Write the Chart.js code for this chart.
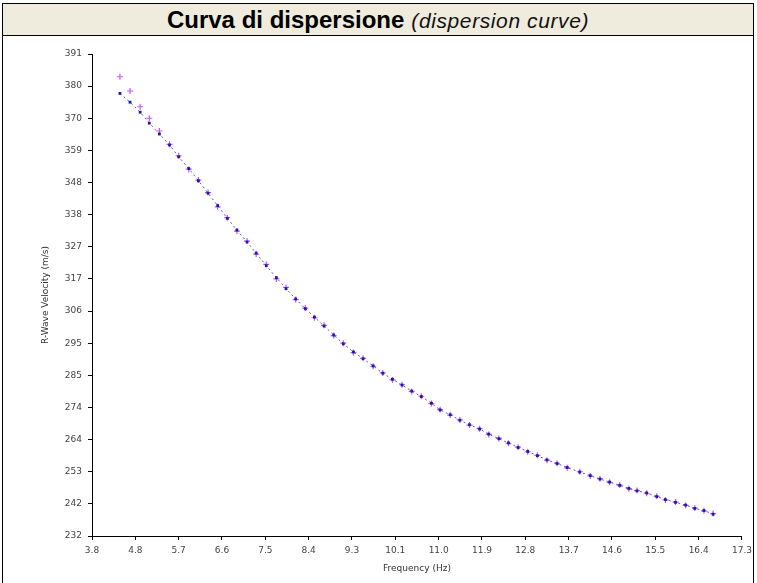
<!DOCTYPE html>
<html>
<head>
<meta charset="utf-8">
<script src="https://cdn.jsdelivr.net/npm/chart.js@4.4.1/dist/chart.umd.min.js"></script>
<style>
  html,body{margin:0;padding:0;background:#fff;}
  #frame{position:absolute;left:2px;top:3px;width:752px;height:590px;border:1px solid #000;box-sizing:border-box;}
  #title{position:absolute;left:0;top:0;width:100%;height:31px;background:#efebdd;border-bottom:1px solid #000;
         text-align:center;font-family:"Liberation Sans",Arial,sans-serif;line-height:31px;white-space:nowrap;}
  #title b{font-size:24px;}
  #title i{font-size:21px;margin-left:7px;letter-spacing:0.6px;color:#111;}
  #wrap{position:absolute;left:0;top:0;width:757px;height:583px;}
</style>
</head>
<body>
<div id="wrap"><canvas id="chart" width="757" height="583"></canvas></div>
<div id="frame"><div id="title"><b>Curva di dispersione</b><i>(dispersion curve)</i></div></div>
<script>
// frequency (Hz)
const freq = [4.38,4.59,4.80,4.99,5.20,5.41,5.60,5.81,6.01,6.21,6.41,6.61,6.81,7.02,7.21,7.42,7.63,7.83,8.03,8.23,
  8.42,8.62,8.82,9.02,9.23,9.43,9.64,9.84,10.04,10.24,10.44,10.64,10.85,11.03,11.24,11.44,11.64,11.85,12.04,12.25,
  12.45,12.65,12.85,13.05,13.25,13.46,13.67,13.93,14.15,14.35,14.55,14.76,14.95,15.12,15.32,15.53,15.71,15.92,16.13,16.32,
  16.51,16.70];
// fitted velocity (blue)
const velFit = [378.0,375.1,371.8,368.2,364.6,361.0,357.1,353.2,349.2,345.1,341.0,336.8,332.9,329.0,325.3,321.2,317.2,313.6,310.2,307.0,
  304.2,301.3,298.3,295.4,292.7,290.5,288.1,285.7,283.7,281.8,279.8,278.0,275.8,273.6,272.0,270.2,268.7,267.3,265.6,264.1,
  262.7,261.2,259.9,258.5,257.1,255.9,254.6,253.1,251.9,250.8,249.8,248.7,247.7,246.9,246.2,245.0,244.0,243.1,242.2,241.1,
  240.4,239.2];
// measured velocity (magenta)
const velMeas = [383.5,378.8,373.6,369.8,365.6,361.2,357.4,353.0,349.4,345.3,340.6,337.0,332.6,329.3,325.0,321.6,316.8,314.0,310.0,307.2,
  304.0,301.5,298.1,295.6,292.5,290.6,288.0,285.8,283.5,281.9,279.7,278.1,275.7,273.7,271.9,270.3,268.6,267.4,265.5,264.2,
  262.6,261.3,259.8,258.6,257.0,256.0,254.5,253.2,251.8,250.9,249.7,248.8,247.6,247.0,246.1,245.1,243.9,243.2,242.1,241.2,
  240.3,239.4];
const xTickLabels = ['3.8','4.8','5.7','6.6','7.5','8.4','9.3','10.1','11.0','11.9','12.8','13.7','14.6','15.5','16.4','17.3'];
const yTickLabels = ['232','242','253','264','274','285','295','306','317','327','338','348','359','370','380','391'];
const xMin = 3.8, xMax = 17.3, yMin = 232, yMax = 391;

function evenTicks(labels, lo, hi){
  return labels.map((_, i) => ({value: lo + i*(hi-lo)/(labels.length-1)}));
}

const tickFont = {family:'"DejaVu Sans", sans-serif', size:9};

new Chart(document.getElementById('chart'), {
  type: 'scatter',
  data: {
    datasets: [
      {label:'fit', data: freq.map((f,i)=>({x:f, y:velFit[i]})), showLine:true,
       borderColor:'#5a5ad0', borderWidth:1, borderDash:[2,3],
       pointStyle:'rect', pointRadius:2, pointBackgroundColor:'#1c1ca8', pointBorderColor:'#1c1ca8', pointBorderWidth:0, order:1},
      {label:'measured', data: freq.map((f,i)=>({x:f, y:velMeas[i]})), showLine:false,
       pointStyle:'cross', pointRadius:3, pointBorderColor:'#cc55ee', pointBorderWidth:1.2, order:2}
    ]
  },
  options: {
    responsive:false, animation:false,
    layout:{padding:{left:0, right:15, top:54, bottom:0}},
    plugins:{legend:{display:false}, tooltip:{enabled:false}},
    scales:{
      x:{type:'linear', min:xMin, max:xMax,
         afterBuildTicks: s => { s.ticks = evenTicks(xTickLabels, xMin, xMax); },
         afterFit: s => { s.height = 47; },
         ticks:{callback:(v,i)=>xTickLabels[i], color:'#444', font:tickFont, padding:5, maxRotation:0, autoSkip:false},
         grid:{drawOnChartArea:false, drawTicks:true, tickLength:4, color:'#000'},
         border:{display:true, color:'#000', width:1},
         title:{display:true, text:'Frequency (Hz)', color:'#333', font:tickFont, padding:{top:0,bottom:9}}},
      y:{type:'linear', min:yMin, max:yMax,
         afterBuildTicks: s => { s.ticks = evenTicks(yTickLabels, yMin, yMax); },
         afterFit: s => { s.width = 92; },
         ticks:{callback:(v,i)=>yTickLabels[i], color:'#444', font:tickFont, padding:6, autoSkip:false},
         grid:{drawOnChartArea:false, drawTicks:true, tickLength:4, color:'#000'},
         border:{display:true, color:'#000', width:1},
         title:{display:true, text:'R-Wave Velocity (m/s)', color:'#333', font:tickFont, padding:{top:40,bottom:0}}}
    }
  }
});
</script>
</body>
</html>
